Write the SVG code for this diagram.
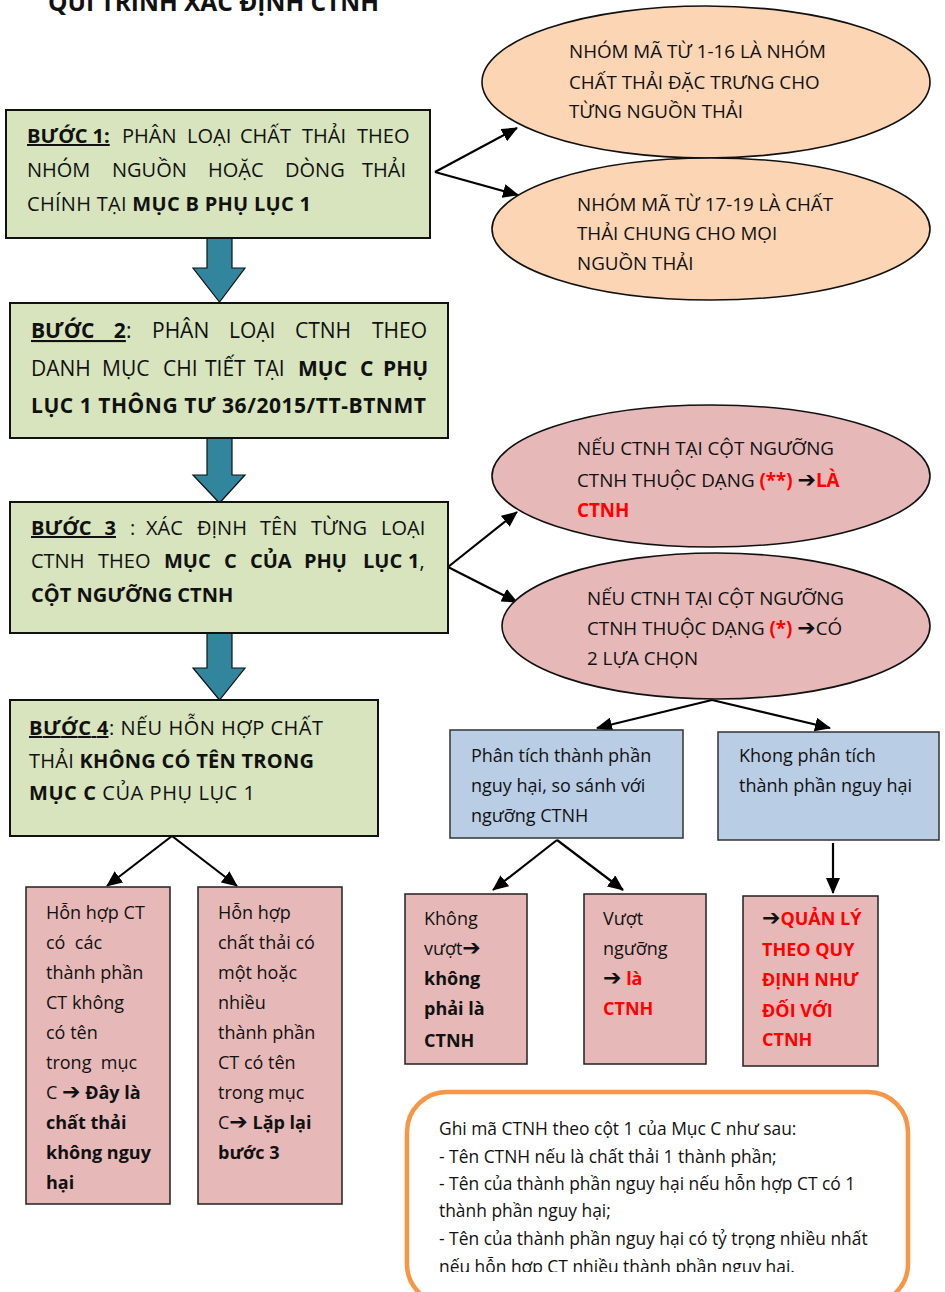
<svg xmlns="http://www.w3.org/2000/svg" width="945" height="1292" viewBox="0 0 945 1292">
<style>
text{font-family:"Open Sans","Noto Sans","DejaVu Sans",sans-serif;fill:#111}
.b{font-weight:bold}
.u{text-decoration:underline}
.r{fill:#ff0000;font-weight:bold}
.ar{font-family:"DejaVu Sans",sans-serif;font-weight:bold;fill:#111;font-size:22px}
.s20{font-size:20px}
.s21{font-size:21px}
.s18{font-size:18px}
.e18{font-size:18.8px}
.green{fill:#d7e4bd;stroke:#111;stroke-width:2}
.blue{fill:#b9cde5;stroke:#333;stroke-width:1.5}
.pink{fill:#e6b9b8;stroke:#222;stroke-width:1.5}
.ell1{fill:#fcd5b5;stroke:#111;stroke-width:1.6}
.ell2{fill:#e6b9b8;stroke:#111;stroke-width:1.6}
.fat{fill:#31859c;stroke:#111;stroke-width:1.2}
.con{stroke:#000;stroke-width:2.2;fill:none;marker-end:url(#ah)}
.note{font-size:17.4px}
</style>
<defs>
<marker id="ah" markerUnits="userSpaceOnUse" markerWidth="16" markerHeight="14" refX="15" refY="7" orient="auto">
<path d="M0,0 L16,7 L0,14 Z" fill="#000"/>
</marker>
<clipPath id="noteclip"><rect x="400" y="1090" width="520" height="182"/></clipPath>
</defs>
<rect width="945" height="1292" fill="#fff"/>

<text id="title" x="48" y="11" class="b" font-size="24.5">QUI TRÌNH XÁC ĐỊNH CTNH</text>

<g id="connectors">
<polygon class="fat" points="207,238 232,238 232,268 245,268 219.5,302 193,268 207,268"/>
<polygon class="fat" points="207,438 232,438 232,475 245,475 219.5,503 193,475 207,475"/>
<polygon class="fat" points="207,633 232,633 232,668 245,668 219.5,700 193,668 207,668"/>
<line class="con" x1="435" y1="172" x2="517" y2="128"/>
<line class="con" x1="435" y1="172" x2="518" y2="195"/>
<line class="con" x1="448" y1="567" x2="517" y2="512"/>
<line class="con" x1="448" y1="567" x2="517" y2="602"/>
<line class="con" x1="712" y1="700" x2="597" y2="728"/>
<line class="con" x1="712" y1="700" x2="830" y2="728"/>
<line class="con" x1="557" y1="840" x2="493" y2="890"/>
<line class="con" x1="557" y1="840" x2="623" y2="890"/>
<line class="con" x1="833" y1="843" x2="833" y2="893"/>
<line class="con" x1="172" y1="836" x2="107" y2="886"/>
<line class="con" x1="172" y1="836" x2="237" y2="886"/>
</g>

<g id="step1">
<rect class="green" x="6" y="110" width="424" height="128"/>
<text class="s20" y="143"><tspan x="27" class="b u">BƯỚC 1:</tspan><tspan x="122">PHÂN</tspan><tspan x="187">LOẠI</tspan><tspan x="240">CHẤT</tspan><tspan x="302">THẢI</tspan><tspan x="357">THEO</tspan></text>
<text class="s20" y="177"><tspan x="27">NHÓM</tspan><tspan x="112">NGUỒN</tspan><tspan x="208">HOẶC</tspan><tspan x="285">DÒNG</tspan><tspan x="362">THẢI</tspan></text>
<text class="s20" x="27" y="211" textLength="284" lengthAdjust="spacing">CHÍNH TẠI <tspan class="b">MỤC B PHỤ LỤC 1</tspan></text>
</g>

<g id="step2">
<rect class="green" x="10" y="303" width="438" height="135"/>
<text class="s21" y="338"><tspan x="31" class="b u" word-spacing="14">BƯỚC 2</tspan><tspan>:</tspan><tspan x="152">PHÂN</tspan><tspan x="229">LOẠI</tspan><tspan x="295">CTNH</tspan><tspan x="372">THEO</tspan></text>
<text class="s21" y="376"><tspan x="31">DANH</tspan><tspan x="102">MỤC</tspan><tspan x="163">CHI</tspan><tspan x="205">TIẾT</tspan><tspan x="254">TẠI</tspan><tspan x="298" class="b">MỤC</tspan><tspan x="360" class="b">C</tspan><tspan x="383" class="b">PHỤ</tspan></text>
<text class="s21 b" x="31" y="413" textLength="395" lengthAdjust="spacing">LỤC 1 THÔNG TƯ 36/2015/TT-BTNMT</text>
</g>

<g id="step3">
<rect class="green" x="10" y="502" width="438" height="131"/>
<text class="s20" y="535"><tspan x="31" class="b u" word-spacing="8">BƯỚC 3</tspan><tspan x="130">:</tspan><tspan x="146">XÁC</tspan><tspan x="197">ĐỊNH</tspan><tspan x="260">TÊN</tspan><tspan x="311">TỪNG</tspan><tspan x="381">LOẠI</tspan></text>
<text class="s20" y="568"><tspan x="31">CTNH</tspan><tspan x="98">THEO</tspan><tspan x="164" class="b">MỤC</tspan><tspan x="224" class="b">C</tspan><tspan x="250" class="b">CỦA</tspan><tspan x="304" class="b">PHỤ</tspan><tspan x="363" class="b">LỤC</tspan><tspan x="408" class="b">1</tspan><tspan>,</tspan></text>
<text class="s20 b" x="31" y="602">CỘT NGƯỠNG CTNH</text>
</g>

<g id="step4">
<rect class="green" x="10" y="700" width="368" height="136"/>
<text class="s20" x="29" y="735" textLength="294" lengthAdjust="spacing"><tspan class="b u">BƯỚC 4</tspan>: NẾU HỖN HỢP CHẤT</text>
<text class="s20" x="29" y="768" textLength="285" lengthAdjust="spacing">THẢI <tspan class="b">KHÔNG CÓ TÊN TRONG</tspan></text>
<text class="s20" x="29" y="800" textLength="226" lengthAdjust="spacing"><tspan class="b">MỤC C</tspan> CỦA PHỤ LỤC 1</text>
</g>

<g id="ell1">
<ellipse class="ell1" cx="706" cy="82" rx="224" ry="76"/>
<text class="e18" x="569" y="58">NHÓM MÃ TỪ 1-16 LÀ NHÓM</text>
<text class="e18" x="569" y="89">CHẤT THẢI ĐẶC TRƯNG CHO</text>
<text class="e18" x="569" y="118">TỪNG NGUỒN THẢI</text>
</g>

<g id="ell2">
<ellipse class="ell1" cx="711" cy="229" rx="219" ry="71"/>
<text class="e18" x="577" y="211">NHÓM MÃ TỪ 17-19 LÀ CHẤT</text>
<text class="e18" x="577" y="240">THẢI CHUNG CHO MỌI</text>
<text class="e18" x="577" y="270">NGUỒN THẢI</text>
</g>

<g id="ell3">
<ellipse class="ell2" cx="711" cy="476" rx="219" ry="71"/>
<text class="e18" x="577" y="455">NẾU CTNH TẠI CỘT NGƯỠNG</text>
<text class="e18" x="577" y="487">CTNH THUỘC DẠNG <tspan class="r">(**)</tspan> <tspan class="ar">➔</tspan><tspan class="r">LÀ</tspan></text>
<text class="e18 r" x="577" y="517">CTNH</text>
</g>

<g id="ell4">
<ellipse class="ell2" cx="716" cy="626" rx="214" ry="73"/>
<text class="e18" x="587" y="605">NẾU CTNH TẠI CỘT NGƯỠNG</text>
<text class="e18" x="587" y="635">CTNH THUỘC DẠNG <tspan class="r">(*)</tspan> <tspan class="ar">➔</tspan>CÓ</text>
<text class="e18" x="587" y="665">2 LỰA CHỌN</text>
</g>

<g id="analyze">
<rect class="blue" x="450" y="730" width="233" height="108"/>
<text class="s18" x="471" y="762">Phân tích thành phần</text>
<text class="s18" x="471" y="792">nguy hại, so sánh với</text>
<text class="s18" x="471" y="822">ngưỡng CTNH</text>
</g>

<g id="noanalyze">
<rect class="blue" x="718" y="732" width="221" height="108"/>
<text class="s18" x="739" y="762">Khong phân tích</text>
<text class="s18" x="739" y="792">thành phần nguy hại</text>
</g>

<g id="notexceed">
<rect class="pink" x="405" y="894" width="122" height="170"/>
<text class="s18" x="424" y="925">Không</text>
<text class="s18" x="424" y="955">vượt<tspan class="ar">➔</tspan></text>
<text class="s18 b" x="424" y="985">không</text>
<text class="s18 b" x="424" y="1015">phải là</text>
<text class="s18 b" x="424" y="1047">CTNH</text>
</g>

<g id="exceed">
<rect class="pink" x="584" y="894" width="122" height="170"/>
<text class="s18" x="603" y="925">Vượt</text>
<text class="s18" x="603" y="955">ngưỡng</text>
<text class="s18" x="603" y="985"><tspan class="ar">➔</tspan> <tspan class="r">là</tspan></text>
<text class="s18 r" x="603" y="1015">CTNH</text>
</g>

<g id="manage">
<rect class="pink" x="743" y="896" width="135" height="170"/>
<text class="s18" x="762" y="925"><tspan class="ar">➔</tspan><tspan class="r">QUẢN LÝ</tspan></text>
<text class="s18 r" x="762" y="956">THEO QUY</text>
<text class="s18 r" x="762" y="986">ĐỊNH NHƯ</text>
<text class="s18 r" x="762" y="1017">ĐỐI VỚI</text>
<text class="s18 r" x="762" y="1046">CTNH</text>
</g>

<g id="mixA">
<rect class="pink" x="26" y="887" width="144" height="317"/>
<text class="s18" x="46" y="919">Hỗn hợp CT</text>
<text class="s18" x="46" y="949" xml:space="preserve">có  các</text>
<text class="s18" x="46" y="979">thành phần</text>
<text class="s18" x="46" y="1009">CT không</text>
<text class="s18" x="46" y="1039">có tên</text>
<text class="s18" x="46" y="1069" xml:space="preserve">trong  mục</text>
<text class="s18" x="46" y="1099">C <tspan class="ar">➔</tspan> <tspan class="b">Đây là</tspan></text>
<text class="s18 b" x="46" y="1129">chất thải</text>
<text class="s18 b" x="46" y="1159">không nguy</text>
<text class="s18 b" x="46" y="1189">hại</text>
</g>

<g id="mixB">
<rect class="pink" x="198" y="887" width="144" height="317"/>
<text class="s18" x="218" y="919">Hỗn hợp</text>
<text class="s18" x="218" y="949">chất thải có</text>
<text class="s18" x="218" y="979">một hoặc</text>
<text class="s18" x="218" y="1009">nhiều</text>
<text class="s18" x="218" y="1039">thành phần</text>
<text class="s18" x="218" y="1069">CT có tên</text>
<text class="s18" x="218" y="1099">trong mục</text>
<text class="s18" x="218" y="1129">C<tspan class="ar">➔</tspan><tspan class="b"> Lặp lại</tspan></text>
<text class="s18 b" x="218" y="1159">bước 3</text>
</g>

<g id="note">
<rect x="407" y="1092" width="501" height="212" rx="40" ry="40" fill="#fff" stroke="#f79646" stroke-width="4.5"/>
<g clip-path="url(#noteclip)">
<text class="note" x="439" y="1135">Ghi mã CTNH theo cột 1 của Mục C như sau:</text>
<text class="note" x="439" y="1163">- Tên CTNH nếu là chất thải 1 thành phần;</text>
<text class="note" x="439" y="1190">- Tên của thành phần nguy hại nếu hỗn hợp CT có 1</text>
<text class="note" x="439" y="1217">thành phần nguy hại;</text>
<text class="note" x="439" y="1245">- Tên của thành phần nguy hại có tỷ trọng nhiều nhất</text>
<text class="note" x="439" y="1273">nếu hỗn hợp CT nhiều thành phần nguy hại.</text>
</g>
</g>
</svg>
